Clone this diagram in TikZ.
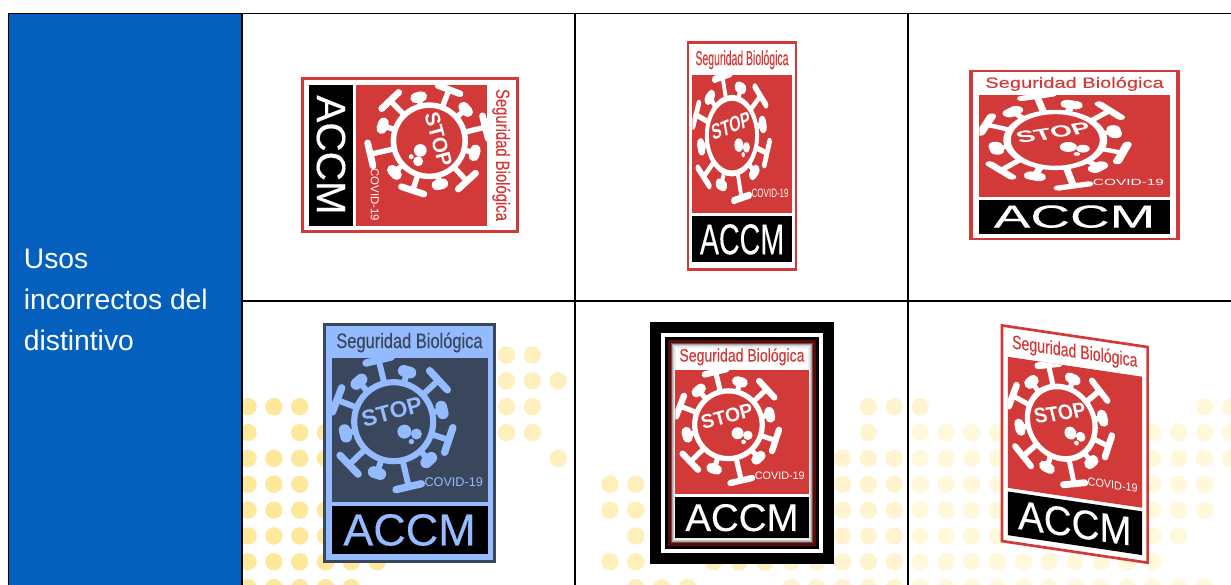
\documentclass[tikz,border=0pt]{standalone}
\usepackage{fontspec}
\setmainfont{Liberation Sans}
\newfontfamily\condfont[FakeStretch=0.78,FakeBold=0.25]{Liberation Sans}
\newfontfamily\accmfont[FakeBold=0.3]{Liberation Sans}
\definecolor{cellblue}{HTML}{0560BD}
\definecolor{badgered}{HTML}{D13A38}
\definecolor{slate}{HTML}{39465B}
\definecolor{lightb}{HTML}{94BBFF}
\definecolor{darkred}{HTML}{5A0A0A}
\definecolor{dotA}{HTML}{FDE89B}
\definecolor{dotB}{HTML}{FEF0BE}
\definecolor{dotC}{HTML}{FFF0BB}
\definecolor{dotD}{HTML}{FFF4CF}
\definecolor{dotE}{HTML}{FFF8DA}
\tikzset{
  gridline/.style={draw=black,line width=0.7pt},
  ringline/.style={line width=3.5pt},
  stemline/.style={line width=3.4pt},
  barline/.style={line width=4.2pt,line cap=round},
  blobline/.style={line width=6.6pt,line cap=round},
  titletext/.style={inner sep=0pt,font=\condfont\fontsize{12}{14}\selectfont},
  accmtext/.style={inner sep=0pt,font=\accmfont\fontsize{25.6}{28}\selectfont},
  stoptext/.style={inner sep=0pt,font=\bfseries\fontsize{13}{15}\selectfont},
  covidtext/.style={inner sep=0pt,font=\fontsize{7.2}{9}\selectfont},
}
\newcommand{\dotrow}[3]{\foreach \k in {#3}{\fill[#1] ({248+25.85*\k},{230-25.85*#2}) circle (8.7);}}
% #1 prefix, #2 border, #3 background, #4 panel, #5 virus, #6 title, #7 ACCM, #8 extra code
\newcommand{\badge}[8]{%
  \fill[#3] (0,0) rectangle (173,240);
  #8
  \draw[#2,line width=1.7pt] (1.5,1.5) rectangle (171.5,238.5);
  \fill[#4] (8.5,61) rectangle (165,205);
  \fill[black] (8.5,9) rectangle (165,57);
  \node[titletext,text=#6] (#1title) at (86.5,220.5) {Seguridad Biológica};
  \node[accmtext,text=#7] (#1accm) at (86.5,33) {ACCM};
  \begin{scope}
    \clip (8.5,61) rectangle (165,205);
    \draw[#5,ringline] (70.7,141.3) circle (39.5);
    \foreach \a/\r in {103.7/63.5,42.8/61,-18.4/58,-77/66.7,-136/62,159/60.7}{
      \begin{scope}[shift={(70.7,141.3)},rotate=\a]
        \draw[#5,stemline] (39,0) -- (\r,0);
        \draw[#5,barline] (\r,-13) -- (\r,13);
      \end{scope}}
    \foreach \a/\r in {75/51.7,13.6/49.7,-47.6/52,-108/54,-166.4/49.7,131/53}{
      \begin{scope}[shift={(70.7,141.3)},rotate=\a]
        \draw[#5,stemline] (39,0) -- (\r,0);
        \draw[#5,blobline] (\r,-3.5) -- (\r,3.5);
      \end{scope}}
  \end{scope}
  \node[stoptext,text=#5,rotate=15] (#1stop) at (69,151.4) {STOP};
  \fill[#5] (81.4,131.4) circle (7);
  \fill[#5] (93.4,129) circle (5.5);
  \fill[#5] (88.4,121.4) circle (2.7);
  \node[covidtext,text=#5] (#1covid) at (130.7,81.3) {COVID-19};
}
\begin{document}
\begin{tikzpicture}[x=0.02cm,y=0.02cm]
\useasboundingbox (0,0) rectangle (1231,585);
\fill[white] (0,0) rectangle (1231,585);
\begin{scope}
  \clip (242,0) rectangle (575,284);
  \dotrow{dotA}{2}{0,1,2}
  \dotrow{dotA}{3}{0,2,3}
  \dotrow{dotA}{4}{0,1,2,3}
  \dotrow{dotA}{5}{0,1,2}
  \dotrow{dotA}{6}{0,1,2,3}
  \dotrow{dotA}{7}{0,1,2,3}
  \dotrow{dotA}{8}{0,1,2,3,4,5}
  \dotrow{dotA}{9}{0,1,2,3,4}
  \dotrow{dotB}{0}{10,11}
  \dotrow{dotB}{1}{10,11,12}
  \dotrow{dotB}{2}{10,11}
  \dotrow{dotB}{3}{10,11}
  \dotrow{dotB}{4}{12}
\end{scope}
\begin{scope}
  \clip (575,0) rectangle (908,284);
  \dotrow{dotC}{5}{14,15}
  \dotrow{dotC}{6}{14,15}
  \dotrow{dotC}{7}{15}
  \dotrow{dotC}{8}{14,15,18,19,20}
  \dotrow{dotC}{9}{15,16,17}
  \dotrow{dotD}{2}{24,25}
  \dotrow{dotD}{3}{24}
  \dotrow{dotD}{4}{22,23,24,25}
  \dotrow{dotD}{5}{23,24,25}
  \dotrow{dotD}{6}{23,24,25}
  \dotrow{dotD}{7}{23,24,25}
  \dotrow{dotD}{8}{21,22,23,24,25}
  \dotrow{dotD}{9}{21,22,23,24,25}
\end{scope}
\begin{scope}
  \clip (908,0) rectangle (1231,284);
  \dotrow{dotD}{2}{26}
  \dotrow{dotE}{2}{37,38}
  \dotrow{dotE}{3}{26,27,28,29,35,36,37,38}
  \dotrow{dotE}{4}{26,27,28,29,35,36,37,38}
  \dotrow{dotE}{5}{26,27,28,29,35,36,37}
  \dotrow{dotE}{6}{26,27,28,29,35,36,37}
  \dotrow{dotE}{7}{26,27,28,29,35,36}
  \dotrow{dotE}{8}{26,27,28,29,30,31,32,33,34,35}
  \dotrow{dotE}{9}{26,27,28,29,30,31,32,33,34,35,36,37}
\end{scope}
\fill[cellblue] (8.5,0) rectangle (242,571.5);
\draw[gridline] (8.5,0) -- (8.5,571.5) -- (1231,571.5);
\draw[gridline] (242,0) -- (242,571.5);
\draw[gridline] (575,0) -- (575,571.5);
\draw[gridline] (908,0) -- (908,571.5);
\draw[gridline] (242,284) -- (1231,284);
\node[anchor=north west,inner sep=0pt,align=left,text=white,font=\fontsize{16.1}{23.4}\selectfont] (label) at (23.5,336.5) {Usos\\incorrectos del\\distintivo};
\fill[black] (650,21) rectangle (834,263);
\fill[white] (661,32) rectangle (823,252);
\fill[black] (665,36) rectangle (819,248);
\begin{scope}[transform canvas={cm={0,-0.902,0.908,0,(301,508)}}]
  \badge{a}{badgered}{white}{badgered}{white}{badgered}{white}{}
\end{scope}
\begin{scope}[transform canvas={cm={0.636,0,0,0.958,(687,314)}}]
  \badge{b}{badgered}{white}{badgered}{white}{badgered}{white}{}
\end{scope}
\begin{scope}[transform canvas={cm={1.22,0,0,0.708,(969,345)}}]
  \badge{c}{badgered}{white}{badgered}{white}{badgered}{white}{}
\end{scope}
\begin{scope}[transform canvas={cm={1,0,0,1,(323,22)}}]
  \badge{d}{slate}{lightb}{slate}{lightb}{slate}{lightb}{}
\end{scope}
\begin{scope}[transform canvas={cm={0.855,0,0,0.858,(668,39)}}]
  \badge{e}{darkred}{white}{badgered}{white}{badgered}{white}{%
    \foreach \i/\c in {3.5/darkred!45!gray,5/gray!70!white,6.5/gray!40!white,8/gray!15!white}{
      \draw[\c,line width=0.9pt] (\i,\i) rectangle (173-\i,240-\i);}}
\end{scope}
\begin{scope}[transform canvas={cm={0.857,-0.127,0,0.91,(1000.7,42.7)}}]
  \badge{f}{badgered}{white}{badgered}{white}{badgered}{white}{}
\end{scope}
\end{tikzpicture}
\end{document}
